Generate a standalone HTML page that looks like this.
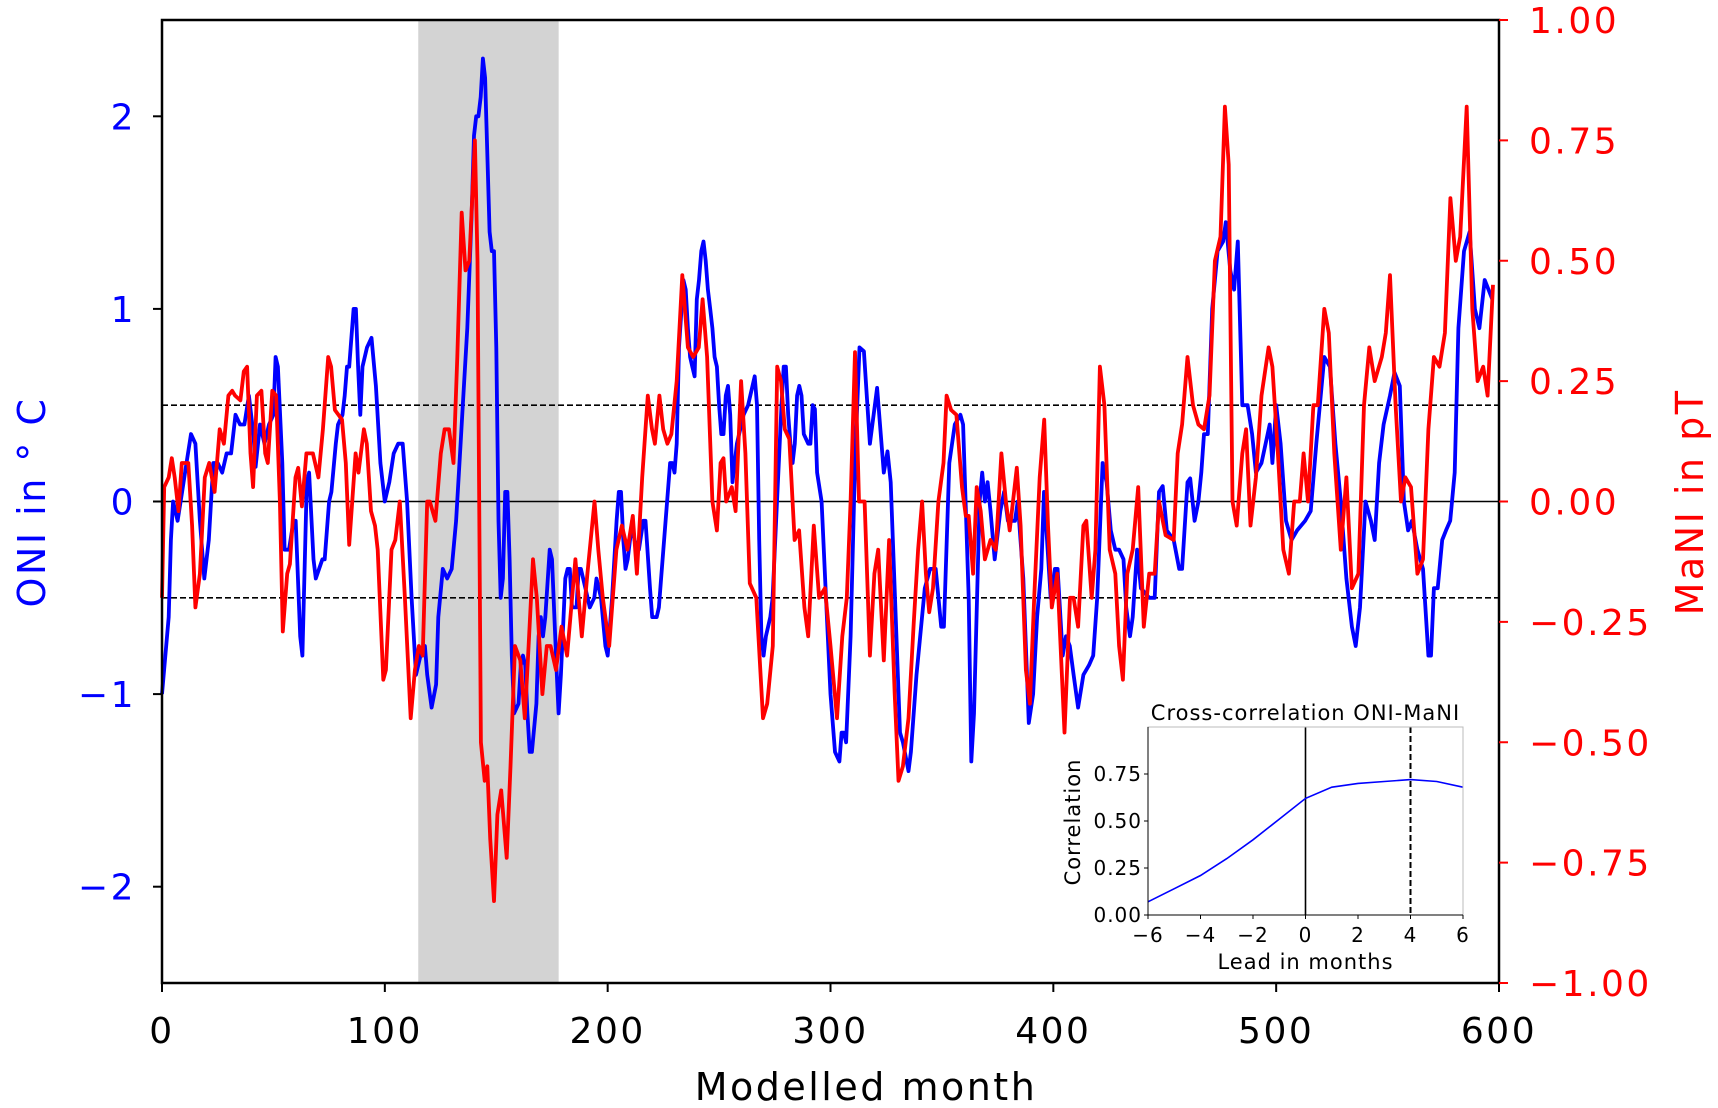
<!DOCTYPE html>
<html><head><meta charset="utf-8"><style>
body{margin:0;background:#fff}
svg{display:block;font-family:"DejaVu Sans","Liberation Sans",sans-serif}
.big{letter-spacing:2.5px}
.small{letter-spacing:1px}
</style></head><body>
<svg id="c" width="1718" height="1108" viewBox="0 0 1718 1108"></svg>
<script>
const oniData=[[0,-1.0],[3,-0.6],[4,-0.2],[5,0],[7,-0.1],[9,0.05],[11,0.2],[13,0.35],[15,0.3],[17,-0.1],[19,-0.4],[21,-0.2],[23,0.2],[25,0.2],[27,0.15],[29,0.25],[31,0.25],[33,0.45],[35,0.4],[37,0.4],[39,0.55],[41,0.35],[42,0.18],[44,0.4],[46,0.3],[48,0.4],[50,0.45],[51,0.75],[52,0.7],[54,0.2],[55,-0.25],[57,-0.25],[59,-0.1],[60,-0.1],[62,-0.7],[63,-0.8],[65,0.1],[66,0.15],[68,-0.3],[69,-0.4],[72,-0.3],[73,-0.3],[75,0],[76,0.05],[78,0.3],[79,0.4],[81,0.45],[82,0.55],[83,0.7],[84,0.7],[86,1.0],[87,1.0],[88,0.7],[89,0.45],[90,0.7],[92,0.8],[94,0.85],[96,0.6],[98,0.2],[100,0],[102,0.1],[104,0.25],[106,0.3],[108,0.3],[110,0],[112,-0.5],[114,-0.9],[116,-0.8],[118,-0.75],[119,-0.9],[121,-1.07],[123,-0.95],[124,-0.6],[126,-0.35],[128,-0.4],[130,-0.35],[132,-0.1],[134,0.3],[135,0.5],[137,0.9],[139,1.5],[140,1.9],[141,2.0],[142,2.0],[143,2.1],[144,2.3],[145,2.2],[147,1.4],[148,1.3],[149,1.3],[150,0.8],[151,-0.1],[152,-0.5],[153,-0.4],[154,0.05],[155,0.05],[156,-0.3],[157,-0.8],[158,-1.1],[160,-1.05],[161,-0.85],[162,-0.8],[163,-0.85],[164,-1.1],[165,-1.3],[166,-1.3],[168,-1.05],[169,-0.7],[170,-0.6],[171,-0.7],[172,-0.6],[174,-0.25],[175,-0.3],[177,-0.85],[178,-1.1],[179,-0.9],[181,-0.4],[182,-0.35],[183,-0.35],[184,-0.55],[186,-0.55],[187,-0.35],[188,-0.35],[190,-0.45],[192,-0.55],[194,-0.5],[195,-0.4],[197,-0.5],[199,-0.75],[200,-0.8],[202,-0.5],[204,-0.1],[205,0.05],[206,0.05],[207,-0.2],[208,-0.35],[209,-0.3],[210,-0.2],[211,-0.1],[212,-0.2],[214,-0.25],[216,-0.1],[217,-0.1],[219,-0.45],[220,-0.6],[222,-0.6],[223,-0.55],[224,-0.4],[226,-0.1],[228,0.2],[229,0.2],[230,0.15],[231,0.3],[232,0.8],[234,1.15],[235,1.1],[236,0.9],[237,0.75],[238,0.7],[239,0.65],[240,1.05],[241,1.15],[242,1.3],[243,1.35],[244,1.25],[245,1.1],[246,1.0],[247,0.9],[248,0.75],[249,0.7],[250,0.5],[251,0.35],[252,0.35],[253,0.55],[254,0.6],[255,0.45],[256,0.1],[258,0.3],[261,0.45],[263,0.5],[265,0.6],[266,0.65],[267,0.5],[268,-0.2],[269,-0.7],[270,-0.8],[271,-0.7],[273,-0.6],[274,-0.5],[276,0],[278,0.5],[279,0.7],[280,0.7],[281,0.45],[282,0.3],[283,0.2],[284,0.3],[285,0.55],[286,0.6],[287,0.55],[288,0.35],[290,0.3],[291,0.3],[292,0.5],[293,0.48],[294,0.15],[296,0],[298,-0.5],[300,-1.0],[302,-1.3],[304,-1.35],[305,-1.2],[306,-1.2],[307,-1.25],[309,-0.7],[311,0.2],[313,0.8],[315,0.78],[317.7,0.3],[320.9,0.59],[323.9,0.15],[325.6,0.26],[327,0.1],[331.2,-1.2],[332.5,-1.25],[335,-1.4],[336.1,-1.3],[338.6,-0.9],[342.3,-0.45],[344.7,-0.35],[347.2,-0.35],[349.7,-0.65],[350.9,-0.65],[353.3,0.2],[355.8,0.4],[358.3,0.45],[359.5,0.4],[362,-0.5],[363.2,-1.35],[364.4,-1.1],[366.9,0],[368.1,0.15],[369.3,0],[370.5,0.1],[371.8,-0.05],[373.7,-0.3],[376.2,-0.05],[377.9,0.05],[379.6,-0.1],[382.8,-0.1],[384,0],[386.5,-0.4],[389,-1.15],[390.9,-1.0],[392.7,-0.6],[394.6,-0.35],[395.8,0.05],[398.8,-0.5],[400.7,-0.35],[401.9,-0.35],[404.2,-0.8],[405.7,-0.7],[407.4,-0.75],[409.1,-0.9],[411.1,-1.07],[413.5,-0.9],[416,-0.85],[417.9,-0.8],[419.7,-0.5],[422.1,0.2],[423.9,0.1],[425.8,-0.15],[427.8,-0.25],[429.5,-0.25],[431.5,-0.3],[432.7,-0.55],[434.4,-0.7],[435.6,-0.6],[437.6,-0.25],[439.3,-0.45],[443,-0.5],[445.5,-0.5],[447.4,0.05],[449.1,0.08],[450.9,-0.15],[454,-0.2],[456.5,-0.35],[457.8,-0.35],[460.2,0.1],[461.4,0.12],[463.4,-0.1],[465.1,0],[466.4,0.15],[467.6,0.35],[469.3,0.35],[471.3,1.0],[473.7,1.3],[476.2,1.35],[477.4,1.45],[479.4,1.2],[481.1,1.1],[482.8,1.35],[484.8,0.5],[487.2,0.5],[489.2,0.35],[490.9,0.15],[493.4,0.2],[497.1,0.4],[498.3,0.2],[500,0.5],[502,0.3],[504.4,-0.1],[506.9,-0.2],[509.4,-0.15],[513,-0.1],[515.5,-0.05],[518,0.3],[521.6,0.75],[524.1,0.7],[526.6,0.3],[529,0],[531.5,-0.4],[534,-0.65],[535.7,-0.75],[537.6,-0.55],[540.1,0],[542.5,-0.1],[544.2,-0.2],[546.2,0.2],[548.2,0.4],[551.1,0.55],[553.1,0.67],[555.5,0.6],[557.3,0],[559.2,-0.15],[560.9,-0.1],[563.4,-0.25],[565.9,-0.35],[568.3,-0.8],[569.5,-0.8],[570.8,-0.45],[572.5,-0.45],[574.5,-0.2],[576.2,-0.15],[578.1,-0.1],[580.1,0.15],[581.8,0.9],[584.3,1.3],[586.8,1.4],[589.2,1.0],[591.2,0.9],[593.6,1.15],[595.3,1.1],[597,1.05]];
const maniData=[[0,-0.2],[1,0.03],[3,0.05],[4.4,0.09],[5.7,0.05],[7.4,-0.02],[8.9,0.08],[11.8,0.08],[13.5,-0.05],[15,-0.22],[17,-0.15],[19.2,0.05],[21.2,0.08],[23.6,0.02],[25.9,0.15],[27.8,0.12],[29.8,0.22],[31.5,0.23],[32.8,0.22],[35.2,0.21],[36.7,0.27],[38.2,0.28],[39.7,0.1],[40.9,0.03],[42.6,0.22],[44.6,0.23],[46.3,0.1],[47.5,0.08],[49.5,0.23],[51.2,0.22],[52.9,0],[54.2,-0.27],[56.2,-0.15],[57.4,-0.13],[59.9,0.05],[61.1,0.07],[62.8,-0.01],[64.8,0.1],[66,0.1],[67.7,0.1],[70.2,0.05],[72.2,0.15],[74.6,0.3],[75.9,0.28],[77.6,0.19],[80.8,0.17],[82.5,0.08],[84,-0.09],[86.9,0.1],[88.2,0.06],[90.6,0.15],[91.9,0.12],[93.8,-0.02],[95.6,-0.05],[96.8,-0.1],[99.3,-0.37],[100.5,-0.35],[103,-0.1],[104.7,-0.08],[106.7,0],[109,-0.2],[111.6,-0.45],[113.5,-0.35],[115.3,-0.3],[117,-0.32],[119,0],[120.2,0],[122.7,-0.04],[125.1,0.1],[126.8,0.15],[128.8,0.15],[130.8,0.08],[132.5,0.3],[134.5,0.6],[136.2,0.48],[137.9,0.5],[140.4,0.75],[141.6,0.5],[143.1,-0.5],[144.8,-0.58],[146,-0.55],[147.3,-0.7],[149,-0.83],[150.5,-0.65],[152.2,-0.6],[154.7,-0.74],[156.4,-0.55],[158.4,-0.3],[160.8,-0.33],[162.8,-0.45],[164.5,-0.3],[166.5,-0.12],[168.2,-0.2],[170.7,-0.4],[172.7,-0.3],[174.4,-0.3],[176.8,-0.35],[179.3,-0.26],[181.8,-0.32],[185.5,-0.12],[188.4,-0.28],[190.9,-0.15],[194.1,0],[195.8,-0.1],[197.8,-0.2],[200.7,-0.3],[203.9,-0.1],[206.4,-0.05],[208.9,-0.1],[211.3,-0.03],[213.1,-0.15],[215.5,0.05],[218,0.22],[219.9,0.15],[221.2,0.12],[223.2,0.22],[224.9,0.15],[226.8,0.12],[228.6,0.14],[231,0.25],[233.5,0.47],[236,0.32],[238.4,0.3],[240.9,0.32],[242.6,0.42],[244.6,0.3],[247,0],[249,-0.06],[250.7,0.08],[252,0.09],[253.2,0],[255.7,0.03],[257.4,-0.02],[259.9,0.25],[261.8,0.1],[263.8,-0.17],[266.7,-0.2],[269.7,-0.45],[271.6,-0.42],[274.1,-0.3],[276.1,0.28],[277.8,0.25],[279.5,0.15],[281.5,0.13],[283.9,-0.08],[285.9,-0.06],[288.3,-0.22],[290,-0.28],[292.5,-0.05],[294.9,-0.2],[297.5,-0.18],[300,-0.3],[302.9,-0.45],[305.3,-0.28],[307.3,-0.2],[309,0],[311,0.31],[312.8,0],[315.3,0],[317.7,-0.32],[319.7,-0.15],[321.4,-0.1],[323.9,-0.33],[326.3,-0.08],[328.8,-0.4],[330.5,-0.58],[332.5,-0.55],[335,-0.45],[337.4,-0.25],[339.3,-0.1],[341.1,0],[342.8,-0.15],[344.3,-0.23],[346,-0.18],[348.4,0],[350.7,0.08],[352.1,0.22],[354.1,0.19],[356.5,0.18],[359,0.03],[360.7,-0.03],[362,-0.03],[364,-0.15],[365.6,0.03],[367.4,-0.02],[369.3,-0.12],[371.8,-0.08],[374.2,-0.1],[376.7,0.1],[378.7,0],[380.4,-0.06],[383.6,0.07],[385.3,-0.05],[387.7,-0.35],[389.5,-0.42],[391.4,-0.2],[393.9,0.05],[395.9,0.17],[397.6,-0.05],[399.3,-0.22],[401.8,-0.15],[405,-0.48],[407.5,-0.2],[409.1,-0.2],[411.1,-0.26],[413.5,-0.05],[414.8,-0.04],[417.2,-0.2],[418.9,-0.1],[420.9,0.28],[422.9,0.2],[425.3,-0.1],[427.8,-0.15],[429.5,-0.3],[431.2,-0.37],[433.2,-0.15],[435.6,-0.1],[438.1,0.03],[440.6,-0.26],[443,-0.15],[445.5,-0.15],[447.4,0],[450.4,-0.07],[454,-0.08],[455.8,0.1],[457.8,0.16],[460.2,0.3],[462.7,0.2],[465.1,0.16],[467.6,0.15],[470.1,0.22],[472.5,0.5],[475,0.55],[477,0.82],[478.7,0.7],[480.4,0],[482.3,-0.05],[484.8,0.1],[486.5,0.15],[488.5,-0.05],[490.9,0.05],[493.4,0.22],[496.6,0.32],[498.3,0.28],[500.8,0.1],[503.2,-0.1],[505.7,-0.15],[508.1,0],[510.6,0],[512.3,0.1],[514.3,0],[516.7,0.2],[518.7,0.2],[521.6,0.4],[523.6,0.35],[526.1,0.1],[529,-0.1],[531.5,0.05],[534,-0.18],[536.9,-0.15],[539.4,0.2],[541.8,0.32],[544.2,0.25],[547.4,0.3],[549.2,0.35],[551.1,0.47],[553.6,0.2],[556,0],[558,0.05],[560.5,0.03],[563.4,-0.15],[565.9,-0.12],[568.3,0.15],[570.8,0.3],[573.3,0.28],[575.7,0.35],[578.2,0.63],[580.6,0.5],[582.6,0.55],[585.5,0.82],[588,0.4],[590.4,0.25],[592.9,0.28],[594.9,0.22],[597.3,0.45]];
const xTicks=[0,100,200,300,400,500,600];
const oniTicks=[-2,-1,0,1,2];
const maniTicks=[-1,-0.75,-0.5,-0.25,0,0.25,0.5,0.75,1];
const shadeRange=[115,178];
const lags=[-6,-5,-4,-3,-2,-1,0,1,2,3,4,5,6];
const corr=[0.07,0.14,0.21,0.30,0.40,0.51,0.62,0.68,0.70,0.71,0.72,0.71,0.68];
const insetXTicks=[-6,-4,-2,0,2,4,6];
const insetYTicks=[0,0.25,0.5,0.75];
const bestLag=4;

const svg=document.getElementById('c');
const NS='http://www.w3.org/2000/svg';
function mk(tag,attrs,parent){const e=document.createElementNS(NS,tag);for(const k in attrs)e.setAttribute(k,attrs[k]);(parent||svg).appendChild(e);return e;}
const L=162,R=1499,T=20,B=983;
const X=m=>L+(m-0)/600*(R-L);
const YO=v=>T+(2.5-v)/5*(B-T);
const YM=v=>T+(1-v)/2*(B-T);
const fmt=v=>(v<0?'\u2212':'')+Math.abs(v);

let e;
e=mk('rect',{x:X(shadeRange[0]),y:T,width:X(shadeRange[1])-X(shadeRange[0]),height:B-T,fill:'#d3d3d3'});


[0.5,-0.5].forEach(v=>{e=mk('line',{x1:L,x2:R,y1:YO(v),y2:YO(v),stroke:'#000','stroke-width':1.6,'stroke-dasharray':'6,3'});

});
e=mk('line',{x1:L,x2:R,y1:YO(0),y2:YO(0),stroke:'#000','stroke-width':1.6});



e=mk('polyline',{points:oniData.map(p=>X(p[0]).toFixed(1)+','+YO(p[1]).toFixed(1)).join(' '),fill:'none',stroke:'#0000ff','stroke-width':3.8,'stroke-linejoin':'round'});


e=mk('polyline',{points:maniData.map(p=>X(p[0]).toFixed(1)+','+YM(p[1]).toFixed(1)).join(' '),fill:'none',stroke:'#ff0000','stroke-width':3.8,'stroke-linejoin':'round'});



e=mk('rect',{x:L,y:T,width:R-L,height:B-T,fill:'none',stroke:'#000','stroke-width':2.5});



xTicks.forEach(t=>{mk('line',{x1:X(t),x2:X(t),y1:B,y2:B+9,stroke:'#000','stroke-width':2});
e=mk('text',{x:X(t),y:1043,'text-anchor':'middle','font-size':36,fill:'#000',class:'big'});e.textContent=t;

});
oniTicks.forEach(t=>{mk('line',{x1:L-9,x2:L,y1:YO(t),y2:YO(t),stroke:'#000','stroke-width':2});
e=mk('text',{x:L-26,y:YO(t)+13,'text-anchor':'end','font-size':36,fill:'#0000ff',class:'big'});e.textContent=fmt(t);

});
maniTicks.forEach(t=>{mk('line',{x1:R,x2:R+9,y1:YM(t),y2:YM(t),stroke:'#ff0000','stroke-width':2});
e=mk('text',{x:R+30,y:YM(t)+13,'font-size':36,fill:'#ff0000',class:'big'});e.textContent=(t<0?'\u2212':'')+Math.abs(t).toFixed(2);

});

e=mk('text',{x:866,y:1100,'text-anchor':'middle','font-size':38,fill:'#000',class:'big'});e.textContent='Modelled month';


e=mk('text',{x:0,y:0,transform:'translate(45,502) rotate(-90)','text-anchor':'middle','font-size':38,fill:'#0000ff',class:'big'});e.textContent='ONI in \u00b0 C';


e=mk('text',{x:0,y:0,transform:'translate(1703,502) rotate(-90)','text-anchor':'middle','font-size':38,fill:'#ff0000',class:'big'});e.textContent='MaNI in pT';



// inset
const IL=1148,IR=1463,IT=727,IB=915;
const IX=v=>IL+(v+6)/12*(IR-IL);
const IY=v=>IB-v/1.0*(IB-IT);
e=mk('rect',{x:IL,y:IT,width:IR-IL,height:IB-IT,fill:'#fff',stroke:'none'});


e=mk('line',{x1:IX(0),x2:IX(0),y1:IT,y2:IB,stroke:'#000','stroke-width':1.6});


e=mk('line',{x1:IX(bestLag),x2:IX(bestLag),y1:IT,y2:IB,stroke:'#000','stroke-width':2,'stroke-dasharray':'6,3'});


e=mk('polyline',{points:lags.map((l,i)=>IX(l).toFixed(1)+','+IY(corr[i]).toFixed(1)).join(' '),fill:'none',stroke:'#0000ff','stroke-width':1.6});


e=mk('rect',{x:IL,y:IT,width:IR-IL,height:IB-IT,fill:'none',stroke:'#bbb','stroke-width':1});


mk('line',{x1:IL,x2:IL,y1:IT,y2:IB,stroke:'#000','stroke-width':1});
mk('line',{x1:IL,x2:IR,y1:IB,y2:IB,stroke:'#000','stroke-width':1});
insetXTicks.forEach(t=>{mk('line',{x1:IX(t),x2:IX(t),y1:IB,y2:IB+4,stroke:'#000'});
e=mk('text',{x:IX(t),y:IB+27,'text-anchor':'middle','font-size':20,fill:'#000',class:'small'});e.textContent=fmt(t);

});
insetYTicks.forEach(t=>{mk('line',{x1:IL-4,x2:IL,y1:IY(t),y2:IY(t),stroke:'#000'});
e=mk('text',{x:IL-6,y:IY(t)+7,'text-anchor':'end','font-size':20,fill:'#000',class:'small'});e.textContent=t.toFixed(2);

});
e=mk('text',{x:(IL+IR)/2,y:720,'text-anchor':'middle','font-size':21,fill:'#000',class:'small'});e.textContent='Cross-correlation ONI-MaNI';


e=mk('text',{x:(IL+IR)/2,y:969,'text-anchor':'middle','font-size':21,fill:'#000',class:'small'});e.textContent='Lead in months';


e=mk('text',{x:0,y:0,transform:'translate(1080,822) rotate(-90)','text-anchor':'middle','font-size':21,fill:'#000',class:'small'});e.textContent='Correlation';


</script>
</body></html>
